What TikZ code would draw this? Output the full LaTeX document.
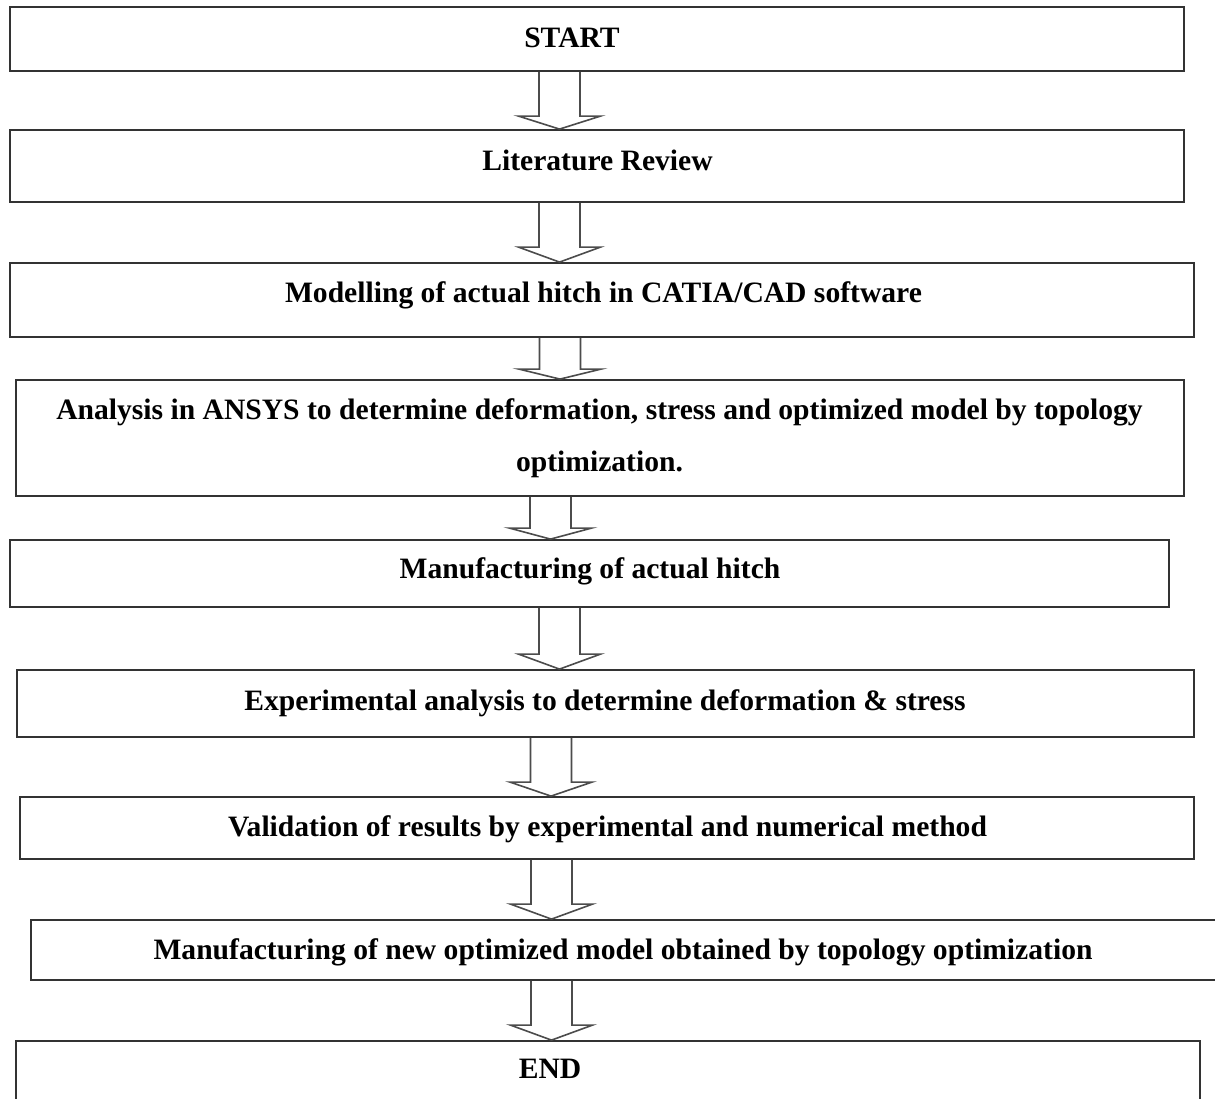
\documentclass[tikz,border=0pt]{standalone}
\usepackage{fontspec}
\setmainfont{Liberation Serif}
\usetikzlibrary{calc}
\tikzset{
  box/.style={draw=black!80, line width=0.9pt, rectangle, inner sep=0pt},
  lbl/.style={anchor=base, inner sep=0pt, font=\fontsize{14.8}{17}\selectfont\bfseries, text=black},
  flow/.style={draw=black!70, line width=0.8pt, line join=miter}
}
% #1 from node, #2 to node, #3 x centre (pt), #4 head height (pt)
\newcommand{\flowarrow}[4]{%
  \draw[flow] let \p1=(#1.south), \p2=(#2.north) in
    ({#3pt-10.25pt},\y1) -- ({#3pt-10.25pt},{\y2+#4pt}) -- ({#3pt-20.5pt},{\y2+#4pt})
    -- ({#3pt},\y2) -- ({#3pt+20.5pt},{\y2+#4pt}) -- ({#3pt+10.25pt},{\y2+#4pt})
    -- ({#3pt+10.25pt},\y1);
}
\begin{document}
\begin{tikzpicture}[x=0.5pt,y=-0.5pt]
\useasboundingbox (0,0) rectangle (1215,1098);
\fill[white] (0,0) rectangle (1215,1098);

\node[box, minimum width=587pt,   minimum height=32pt]   (b1) at (597,39) {};
\node[box, minimum width=587pt,   minimum height=36pt]   (b2) at (597,166) {};
\node[box, minimum width=592pt,   minimum height=37pt]   (b3) at (602,300) {};
\node[box, minimum width=584pt,   minimum height=58pt]   (b4) at (600,438) {};
\node[box, minimum width=579.5pt, minimum height=33.5pt] (b5) at (589.5,573.5) {};
\node[box, minimum width=588.5pt, minimum height=33.5pt] (b6) at (605.5,703.5) {};
\node[box, minimum width=587pt,   minimum height=31pt]   (b7) at (607,828) {};
\node[box, minimum width=592.5pt, minimum height=30pt]   (b8) at (623.5,950) {};
\node[box, minimum width=592pt,   minimum height=37pt]   (b9) at (608,1078) {};

\node[lbl] (t1) at (572,47) {START};
\node[lbl] (t2) at (597.5,170) {Literature Review};
\node[lbl] (t3) at (603.5,302) {Modelling of actual hitch in CATIA/CAD software};
\node[lbl] (t4a) at (599.5,419) {Analysis in ANSYS to determine deformation, stress and optimized model by topology};
\node[lbl] (t4b) at (599.5,471) {optimization.};
\node[lbl] (t5) at (590,578) {Manufacturing of actual hitch};
\node[lbl] (t6) at (605,710) {Experimental analysis to determine deformation \& stress};
\node[lbl] (t7) at (607.5,836) {Validation of results by experimental and numerical method};
\node[lbl] (t8) at (623,959) {Manufacturing of new optimized model obtained by topology optimization};
\node[lbl] (t9) at (550,1078) {END};

\flowarrow{b1}{b2}{279.75}{6.5}
\flowarrow{b2}{b3}{279.75}{7.5}
\flowarrow{b3}{b4}{280}{5}
\flowarrow{b4}{b5}{275.25}{5.5}
\flowarrow{b5}{b6}{279.75}{7.5}
\flowarrow{b6}{b7}{275.5}{7}
\flowarrow{b7}{b8}{275.75}{7.5}
\flowarrow{b8}{b9}{275.75}{7.5}
\end{tikzpicture}
\end{document}
